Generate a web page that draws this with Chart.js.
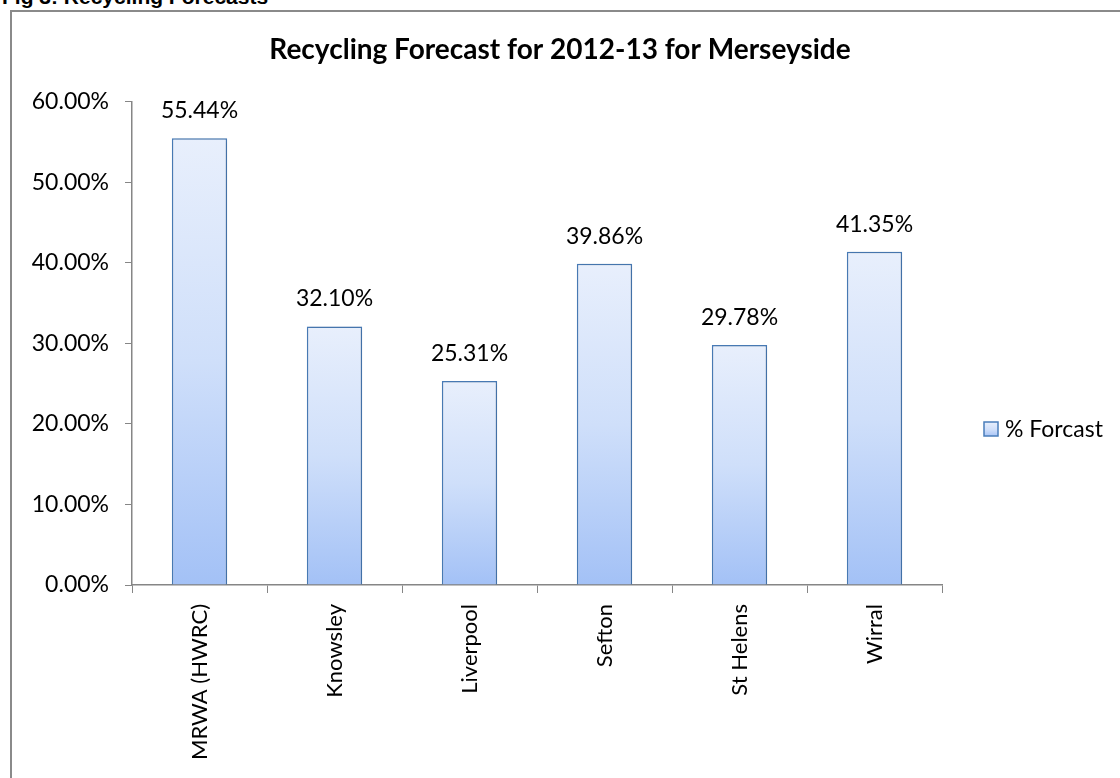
<!DOCTYPE html>
<html>
<head>
<meta charset="utf-8">
<script src="https://cdn.jsdelivr.net/npm/chart.js@4.4.0/dist/chart.umd.min.js"></script>
<style>
  body { margin: 0; background: #fff; overflow: hidden; }
  #caption { position: absolute; left: 2px; top: -14px; font: bold 21px "Liberation Sans", Arial, sans-serif; line-height: 21px; color: #000; }
  #frame { position: absolute; left: 10px; top: 10px; width: 1200px; height: 900px; border: 2px solid #8a8a8a; }
  #c { position: absolute; left: 0; top: 0; }
</style>
</head>
<body>
<div id="caption">Fig 3: Recycling Forecasts</div>
<div id="frame"></div>
<canvas id="c" width="1120" height="778"></canvas>
<script>
  // dados do gráfico
  var categorias = ["MRWA (HWRC)", "Knowsley", "Liverpool", "Sefton", "St Helens", "Wirral"];
  var previsao = [55.44, 32.10, 25.31, 39.86, 29.78, 41.35];
  var yTicks = [0, 10, 20, 30, 40, 50, 60];

  var fonte = 'Lato, "Open Sans", sans-serif';

  function gradiente(ctx, top, bottom) {
    var g = ctx.createLinearGradient(0, top, 0, bottom);
    g.addColorStop(0, '#e8effc');
    g.addColorStop(0.5, '#cfdffa');
    g.addColorStop(1, '#a3c1f6');
    return g;
  }

  // sombra leve nas barras
  var sombra = {
    id: 'sombra',
    beforeDatasetsDraw: function(chart) {
      var ctx = chart.ctx;
      ctx.save();
      ctx.shadowColor = 'rgba(0,0,0,0.18)';
      ctx.shadowBlur = 4;
      ctx.shadowOffsetX = 1;
    },
    afterDatasetsDraw: function(chart) {
      chart.ctx.restore();
    }
  };

  // rótulos acima das barras
  var rotulos = {
    id: 'rotulos',
    afterDatasetsDraw: function(chart) {
      var ctx = chart.ctx;
      var meta = chart.getDatasetMeta(0);
      ctx.save();
      ctx.font = '23px ' + fonte;
      ctx.fillStyle = '#000';
      ctx.textAlign = 'center';
      ctx.textBaseline = 'alphabetic';
      meta.data.forEach(function(bar, i) {
        ctx.fillText(previsao[i].toFixed(2) + '%', bar.x, bar.y - 20);
      });
      ctx.restore();
    }
  };

  // legenda à direita
  var legenda = {
    id: 'legenda',
    afterDraw: function(chart) {
      var ctx = chart.ctx;
      ctx.save();
      ctx.fillStyle = gradiente(ctx, 422, 437);
      ctx.fillRect(984, 422, 14, 14);
      ctx.strokeStyle = '#4a7ebb';
      ctx.lineWidth = 1.5;
      ctx.strokeRect(984, 422, 14, 14);
      ctx.font = '23px ' + fonte;
      ctx.fillStyle = '#000';
      ctx.textBaseline = 'middle';
      ctx.fillText(chart.data.datasets[0].label, 1005, 430);
      ctx.restore();
    }
  };

  var ctx = document.getElementById('c').getContext('2d');
  var grafico = new Chart(ctx, {
    type: 'bar',
    data: {
      labels: categorias,
      datasets: [{
        label: '% Forcast',
        data: previsao,
        backgroundColor: function(c) {
          var ch = c.chart;
          if (!ch.chartArea || !ch.scales.y) return '#cfdffa';
          var y = ch.scales.y;
          return gradiente(ch.ctx, y.getPixelForValue(c.raw), y.getPixelForValue(0));
        },
        borderColor: '#4a7ebb',
        borderWidth: 1.5,
        borderSkipped: 'bottom',
        barPercentage: 0.82,
        categoryPercentage: 0.5
      }]
    },
    options: {
      responsive: false,
      animation: false,
      layout: { padding: 0 },
      plugins: {
        legend: { display: false },
        tooltip: { enabled: false },
        title: {
          display: true,
          text: 'Recycling Forecast for 2012-13 for Merseyside',
          color: '#000',
          font: { family: fonte, size: 28, weight: 'bold', lineHeight: 1.2 },
          padding: { top: 33, bottom: 35 }
        }
      },
      scales: {
        x: {
          grid: { drawOnChartArea: false, color: '#868686', tickLength: 8, offset: true },
          border: { color: '#868686', width: 1.5 },
          ticks: {
            color: '#000',
            font: { family: fonte, size: 22 },
            minRotation: 90,
            maxRotation: 90,
            padding: 11
          },
          afterFit: function(s) { s.height = 193; }
        },
        y: {
          min: 0,
          max: 60,
          grid: { drawOnChartArea: false, color: '#868686', tickLength: 7 },
          border: { color: '#868686', width: 1.5 },
          ticks: {
            stepSize: 10,
            color: '#000',
            font: { family: fonte, size: 23 },
            padding: 16,
            callback: function(v) { return yTicks.indexOf(v) >= 0 ? v.toFixed(2) + '%' : ''; }
          },
          afterFit: function(s) { s.width = 132; }
        },
        // eixo vazio só para reservar o espaço da legenda
        espaco: {
          position: 'right',
          grid: { display: false },
          border: { display: false },
          ticks: { display: false },
          afterFit: function(s) { s.width = 178; }
        }
      }
    },
    plugins: [sombra, rotulos, legenda]
  });
</script>
</body>
</html>
